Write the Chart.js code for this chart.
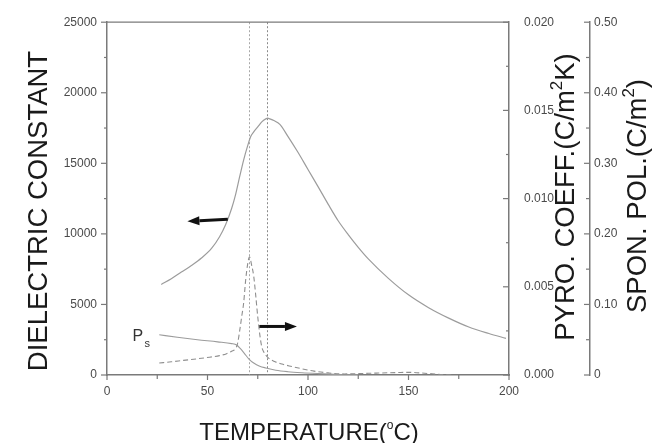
<!DOCTYPE html>
<html><head><meta charset="utf-8">
<script src="https://cdn.jsdelivr.net/npm/chart.js@4/dist/chart.umd.min.js"></script>
<style>html,body{margin:0;padding:0;background:#fff;}#wrap{width:658px;height:443px;}</style>
</head><body><div id="wrap"><canvas id="c" width="658" height="443"></canvas></div>
<script>
// ---- data ----
const dielT   = [27, 32, 37, 42, 47, 52, 56, 59, 62, 64, 66, 68, 70, 71.5, 73, 75, 77, 79, 80, 81, 83, 86, 90, 95, 100, 105, 110, 115, 120, 125, 130, 140, 150, 160, 170, 180, 190, 198.5];
const dielEps = [6420, 6820, 7290, 7760, 8290, 8970, 9800, 10650, 11800, 12800, 14050, 15250, 16250, 16900, 17230, 17580, 17940, 18150, 18200, 18150, 18030, 17760, 16910, 15780, 14560, 13350, 12110, 10930, 9950, 9050, 8230, 6850, 5680, 4770, 4030, 3400, 2940, 2600];

const pyroT   = [26, 32, 38, 45, 51, 56, 59.5, 62, 64, 65, 66, 67, 68, 69, 70, 70.9, 72, 73, 74, 75, 76, 77, 78, 80, 83, 87, 92, 97, 103, 110, 118, 125, 135, 145, 150, 158, 166, 172];
const pyroVal = [0.00068, 0.00075, 0.00083, 0.00092, 0.00101, 0.00110, 0.00121, 0.00135, 0.00150, 0.0018, 0.0025, 0.0033, 0.0041, 0.0054, 0.0063, 0.0067, 0.0062, 0.0056, 0.0045, 0.0033, 0.0023, 0.0016, 0.0013, 0.0010, 0.00078, 0.00062, 0.00048, 0.00035, 0.00022, 0.00012, 0.00006, 0.00008, 0.00011, 0.00014, 0.00015, 0.00010, 0.00003, 0];

const psT   = [26, 35, 45, 55, 62, 64.5, 66.5, 68.5, 70.5, 73, 76, 79, 84, 90, 97, 105, 115, 125];
const psVal = [0.057, 0.0535, 0.050, 0.047, 0.0445, 0.0425, 0.037, 0.030, 0.023, 0.017, 0.0125, 0.0100, 0.0068, 0.0047, 0.0032, 0.0020, 0.0008, 0.0002];

const transitionTemps = [70.5, 79.6];
const xTickStep = 50, dielTickStep = 5000, pyroTickStep = 0.005, psTickStep = 0.1;

// annotations (data coordinates)
const arrowLeft  = {from: [60.1, 11030], to: [40.0, 10900]};
const arrowRight = {from: [75.8, 3440],  to: [94.5, 3440]};
const psLabelAt  = [12.7, 2380];

const FONT = "'Liberation Sans', Arial, sans-serif";
const AXIS = '#7a7a7a', TICKTXT = '#4a4a4a', LINE = '#9c9c9c';

function richText(ctx, parts, x, y, rot) {
  ctx.save();
  ctx.translate(x, y);
  if (rot) ctx.rotate(rot);
  let total = 0;
  parts.forEach(p => { ctx.font = p.size + 'px ' + FONT; p.w = ctx.measureText(p.t).width; total += p.w; });
  let cx = -total / 2;
  ctx.textBaseline = 'alphabetic'; ctx.textAlign = 'left';
  parts.forEach(p => { ctx.font = p.size + 'px ' + FONT; ctx.fillText(p.t, cx, p.dy || 0); cx += p.w; });
  ctx.restore();
}

function arrow(ctx, x1, y1, x2, y2) {
  const a = Math.atan2(y2 - y1, x2 - x1), L = 12, W = 4.5;
  const bx = x2 - L * Math.cos(a), by = y2 - L * Math.sin(a);
  ctx.strokeStyle = '#111'; ctx.fillStyle = '#111'; ctx.lineWidth = 3; ctx.setLineDash([]);
  ctx.beginPath(); ctx.moveTo(x1, y1); ctx.lineTo(bx, by); ctx.stroke();
  ctx.beginPath(); ctx.moveTo(x2, y2);
  ctx.lineTo(bx + W * Math.sin(a), by - W * Math.cos(a));
  ctx.lineTo(bx - W * Math.sin(a), by + W * Math.cos(a));
  ctx.closePath(); ctx.fill();
}

const decor = {
  id: 'decor',
  beforeDatasetsDraw(chart) {
    const {ctx, chartArea: ca, scales: {x}} = chart;
    ctx.save();
    ctx.setLineDash([2, 2]);
    ctx.lineWidth = 1;
    transitionTemps.forEach((t, i) => {
      ctx.strokeStyle = i === 0 ? '#a8a8a8' : '#8a8a8a';
      const px = Math.round(x.getPixelForValue(t)) + 0.5;
      ctx.beginPath(); ctx.moveTo(px, ca.top); ctx.lineTo(px, ca.bottom); ctx.stroke();
    });
    ctx.restore();
  },
  afterDraw(chart) {
    const {ctx, chartArea: ca, scales: {x, y, y2, y3}} = chart;
    ctx.save();
    ctx.strokeStyle = AXIS; ctx.lineWidth = 1.3; ctx.setLineDash([]);
    // top border
    ctx.beginPath(); ctx.moveTo(ca.left, ca.top); ctx.lineTo(ca.right, ca.top); ctx.stroke();
    ctx.lineWidth = 1.2;
    // left ticks (outward)
    for (let v = 0; v <= 25000; v += 2500) {
      const py = y.getPixelForValue(v), len = v % 5000 === 0 ? 6 : 3;
      ctx.beginPath(); ctx.moveTo(ca.left - len, py); ctx.lineTo(ca.left, py); ctx.stroke();
    }
    // bottom ticks (outward)
    for (let v = 0; v <= 200; v += 25) {
      const px = x.getPixelForValue(v), len = v % 50 === 0 ? 5 : 4;
      ctx.beginPath(); ctx.moveTo(px, ca.bottom); ctx.lineTo(px, ca.bottom + len); ctx.stroke();
    }
    // pyro axis ticks (inward)
    for (let i = 0; i <= 8; i++) {
      const v = i * 0.0025, py = y2.getPixelForValue(v), len = i % 2 === 0 ? 6 : 3;
      ctx.beginPath(); ctx.moveTo(ca.right - len, py); ctx.lineTo(ca.right, py); ctx.stroke();
    }
    // spon pol axis ticks (to the left)
    for (let i = 0; i <= 10; i++) {
      const v = i * 0.05, py = y3.getPixelForValue(v), len = i % 2 === 0 ? 6 : 4;
      ctx.beginPath(); ctx.moveTo(y3.left - len, py); ctx.lineTo(y3.left, py); ctx.stroke();
    }
    // arrows
    arrow(ctx, x.getPixelForValue(arrowLeft.from[0]), y.getPixelForValue(arrowLeft.from[1]),
               x.getPixelForValue(arrowLeft.to[0]), y.getPixelForValue(arrowLeft.to[1]));
    arrow(ctx, x.getPixelForValue(arrowRight.from[0]), y.getPixelForValue(arrowRight.from[1]),
               x.getPixelForValue(arrowRight.to[0]), y.getPixelForValue(arrowRight.to[1]));
    // Ps label
    ctx.fillStyle = '#333';
    const lx = x.getPixelForValue(psLabelAt[0]), ly = y.getPixelForValue(psLabelAt[1]);
    ctx.font = '16px ' + FONT; ctx.textBaseline = 'alphabetic'; ctx.textAlign = 'left';
    ctx.fillText('P', lx, ly);
    ctx.font = '11px ' + FONT; ctx.fillText('s', lx + 12, ly + 6);
    // axis titles
    ctx.fillStyle = '#1a1a1a';
    richText(ctx, [{t: 'DIELECTRIC CONSTANT', size: 27.5}], 47, 211, -Math.PI / 2);
    richText(ctx, [{t: 'TEMPERATURE(', size: 24}, {t: 'o', size: 12, dy: -11}, {t: 'C)', size: 24}], 309, 440, 0);
    richText(ctx, [{t: 'PYRO. COEFF.(C/m', size: 27.5}, {t: '2', size: 17, dy: -12}, {t: 'K)', size: 27.5}], 574, 197, -Math.PI / 2);
    richText(ctx, [{t: 'SPON. POL.(C/m', size: 27.5}, {t: '2', size: 17, dy: -12}, {t: ')', size: 27.5}], 646, 196, -Math.PI / 2);
    ctx.restore();
  }
};

const tickFont = {size: 12, family: FONT};
const pts = (xs, ys) => xs.map((t, i) => ({x: t, y: ys[i]}));

new Chart(document.getElementById('c'), {
  type: 'line',
  data: {
    datasets: [
      {label: 'Dielectric constant', data: pts(dielT, dielEps), yAxisID: 'y', borderColor: LINE, borderWidth: 1.2, pointRadius: 0, cubicInterpolationMode: 'monotone', fill: false},
      {label: 'Pyro. coeff.', data: pts(pyroT, pyroVal), yAxisID: 'y2', borderColor: '#8e8e8e', borderWidth: 1.1, borderDash: [5, 3], pointRadius: 0, cubicInterpolationMode: 'monotone', fill: false},
      {label: 'Ps', data: pts(psT, psVal), yAxisID: 'y3', borderColor: LINE, borderWidth: 1.1, pointRadius: 0, cubicInterpolationMode: 'monotone', fill: false}
    ]
  },
  options: {
    responsive: false, animation: false, devicePixelRatio: 1,
    layout: {padding: {top: 12, left: 0, right: 0, bottom: 0}},
    plugins: {legend: {display: false}, tooltip: {enabled: false}},
    scales: {
      x: {type: 'linear', position: 'bottom', min: 0, max: 200,
          ticks: {stepSize: xTickStep, padding: 9, color: TICKTXT, font: tickFont, maxRotation: 0, callback: v => String(v)},
          grid: {display: false, drawTicks: false}, border: {display: true, color: AXIS, width: 1.5},
          afterFit(s) { s.height = 68; }},
      y: {type: 'linear', position: 'left', min: 0, max: 25000,
          ticks: {stepSize: dielTickStep, padding: 10, color: TICKTXT, font: tickFont, callback: v => String(v)},
          grid: {display: false, drawTicks: false}, border: {display: true, color: AXIS, width: 1.5},
          afterFit(s) { s.width = 107; }},
      y2: {type: 'linear', position: 'right', weight: 0, min: 0, max: 0.02,
          ticks: {stepSize: pyroTickStep, padding: 15, color: TICKTXT, font: tickFont, callback: v => v.toFixed(3)},
          grid: {display: false, drawTicks: false}, border: {display: true, color: AXIS, width: 1.5},
          afterFit(s) { s.width = 81; }},
      y3: {type: 'linear', position: 'right', weight: 1, min: 0, max: 0.5,
          ticks: {stepSize: psTickStep, padding: 4, color: TICKTXT, font: tickFont, callback: v => v === 0 ? '0' : v.toFixed(2)},
          grid: {display: false, drawTicks: false}, border: {display: true, color: AXIS, width: 1.5},
          afterFit(s) { s.width = 68; }}
    }
  },
  plugins: [decor]
});
</script></body></html>
